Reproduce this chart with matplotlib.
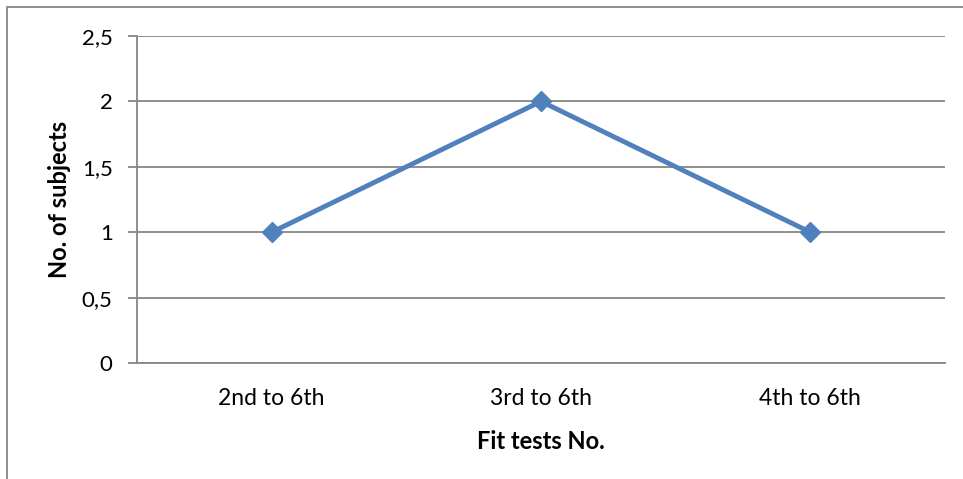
import matplotlib
matplotlib.use('Agg')
import matplotlib.pyplot as plt
from matplotlib.patches import Rectangle

# counts of subjects per fit test range
categories = ['2nd to 6th', '3rd to 6th', '4th to 6th']
subjects = [1, 2, 1]
yticks = [0, 0.5, 1, 1.5, 2, 2.5]
ytick_labels = ['0', '0,5', '1', '1,5', '2', '2,5']

plt.rcParams['font.family'] = ['Lato', 'DejaVu Sans']

fig = plt.figure(figsize=(9.63, 4.79), dpi=100)
ax = fig.add_axes([137 / 963, 1 - 363 / 479, (945 - 137) / 963, (363 - 36) / 479])

grey = '#868686'
x = range(len(categories))
ax.plot(x, subjects, color='#4F81BD', linewidth=3.5, marker='D', markersize=10,
        markeredgecolor='#4F81BD', zorder=3, clip_on=False)

ax.set_xlim(-0.5, len(categories) - 0.5)
ax.set_ylim(0, 2.5)
ax.set_yticks(yticks)
ax.set_yticklabels(ytick_labels, fontsize=16)
ax.set_xticks(list(x))
ax.set_xticklabels(categories, fontsize=16.5)

ax.grid(axis='y', color=grey, linewidth=1.3)
ax.set_axisbelow(True)
for side in ['top', 'right']:
    ax.spines[side].set_visible(False)
for side in ['left', 'bottom']:
    ax.spines[side].set_color(grey)
    ax.spines[side].set_linewidth(1.3)

ax.tick_params(axis='y', length=6.5, width=1.3, color=grey, pad=11)
ax.tick_params(axis='x', length=0, pad=18)

ax.set_ylabel('No. of subjects', fontsize=17, fontweight='bold', labelpad=8)
ax.set_xlabel('Fit tests No.', fontsize=17, fontweight='bold', labelpad=15)

# chart frame
fig.patches.append(Rectangle((7 / 963, -0.1), 1.2, 1 - 7 / 479 + 0.1,
                             transform=fig.transFigure, fill=False,
                             edgecolor=grey, linewidth=1.3))

fig.savefig('out.png', dpi=100)
